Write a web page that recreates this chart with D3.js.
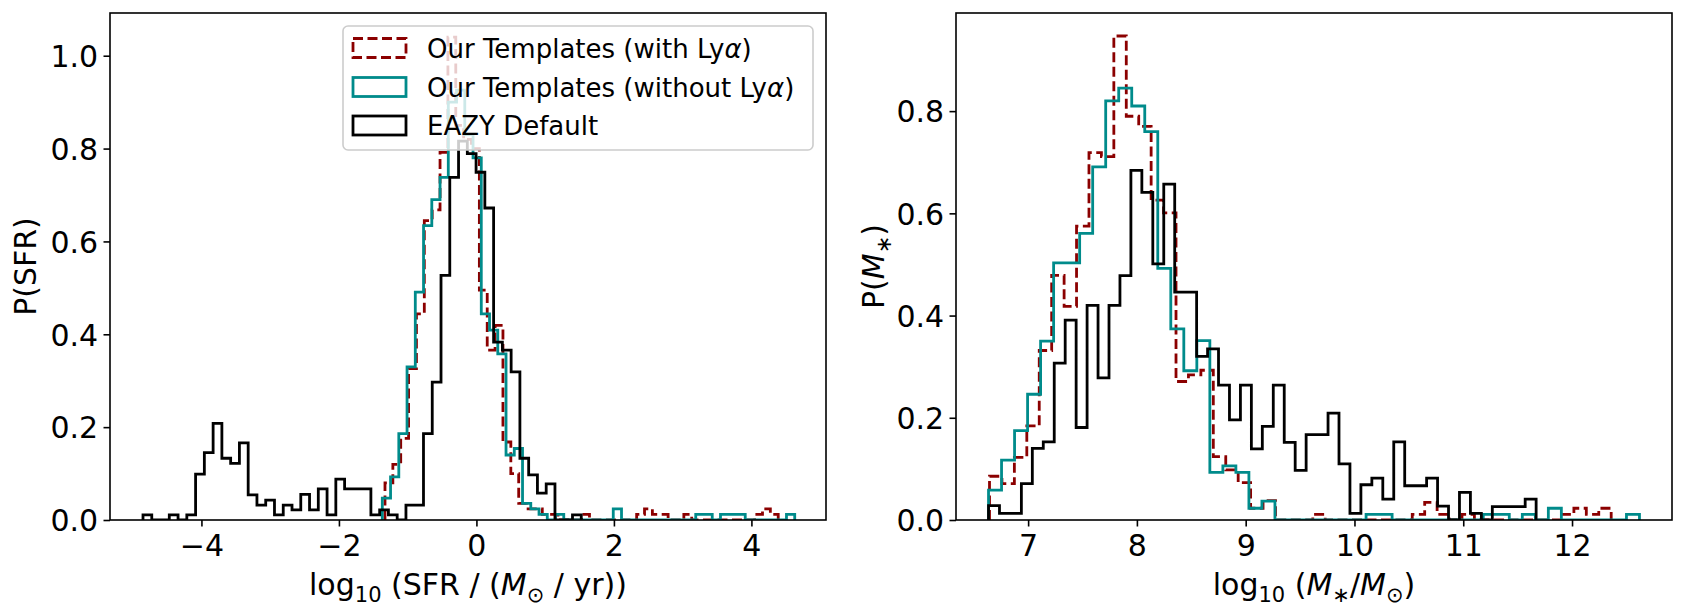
<!DOCTYPE html>
<html>
<head>
<meta charset="utf-8">
<script src="https://cdn.jsdelivr.net/npm/d3@7"></script>
<style>
  html, body { margin: 0; padding: 0; background: #fff; }
  svg { display: block; }
  text { font-family: "DejaVu Sans", sans-serif; fill: #000; }
</style>
</head>
<body>
<svg id="chart" width="1686" height="615"></svg>
<script>
// ---------------- DATA ----------------
// Left panel: log10 SFR histograms (density), 50 bins each between min and max
const sfrRedRange = [-1.33, 4.39];
const sfrRed = [0.08,0.12,0.176,0.326,0.444,0.645,0.668,0.792,1.04,0.85,0.82,0.8,
  0.495,0.366,0.419,0.168,0.1,0.036,0.024,0.024,0.012,0.012,0,0,0,0.012,0,0,0,0,0,0,
  0.012,0.024,0.012,0.012,0,0,0.012,0,0,0,0,0,0,0,0,0.012,0.024,0.012];

const sfrTealRange = [-1.369, 4.63];
const sfrTeal = [0.047,0.093,0.186,0.33,0.491,0.634,0.69,0.738,0.9,0.926,0.83,0.78,
  0.444,0.409,0.358,0.14,0.154,0.036,0.024,0.012,0,0.012,0,0,0,0,0,0,0.024,0,0,0,0,0,0,0,0,0,
  0.012,0.012,0,0.012,0.012,0.012,0,0,0,0,0,0.012];

const sfrBlackRange = [-4.85, 1.525];
const sfrBlack = [0.011,0,0,0.011,0,0.011,0.099,0.145,0.208,0.133,0.122,0.166,0.054,0.032,0.043,
  0.011,0.032,0.022,0.055,0.022,0.067,0.011,0.088,0.067,0.067,0.067,0.011,0.022,0.011,0,
  0.032,0.032,0.186,0.297,0.527,0.738,0.816,0.789,0.749,0.672,0.383,0.366,0.319,0.133,0.097,
  0.058,0.078,0,0,0.011];

// Right panel: log10 stellar mass histograms (density)
const massRedRange = [6.645, 12.36];
const massRed = [0.0856,0.071,0.1227,0.184,0.3316,0.4785,0.418,0.575,0.719,0.711,0.947,0.79,0.77,
  0.626,0.601,0.271,0.284,0.293,0.124,0.098,0.073,0.023,0.038,0,0,0,0.011,0,0,0,0,0,0,0,
  0.011,0.0345,0.011,0,0.011,0,0,0,0,0,0,0,0.011,0.023,0.011,0.023];

const massTealRange = [6.636, 12.62];
const massTeal = [0.0586,0.117,0.175,0.246,0.35,0.503,0.503,0.561,0.691,0.82,0.845,0.81,0.76,
  0.4925,0.374,0.292,0.351,0.093,0.106,0.093,0.023,0.037,0,0,0,0,0,0,0,0.011,0.011,0,0,0,0,0,0,0,
  0.011,0.011,0,0.011,0,0.023,0,0,0,0,0,0.011];

const massBlackRange = [6.636, 11.67];
const massBlack = [0.028,0.013,0.013,0.071,0.14,0.153,0.307,0.391,0.181,0.42,0.278,0.42,0.478,
  0.684,0.641,0.501,0.657,0.446,0.446,0.32,0.335,0.264,0.196,0.264,0.139,0.183,0.264,0.152,0.097,
  0.167,0.167,0.209,0.11,0.013,0.069,0.082,0.041,0.153,0.067,0.067,0.082,0.027,0,0.054,0.013,0,
  0.026,0.026,0.026,0.041];

// Ticks
const sfrXTicks = [-4, -2, 0, 2, 4];
const sfrYTicks = [0, 0.2, 0.4, 0.6, 0.8, 1.0];
const massXTicks = [7, 8, 9, 10, 11, 12];
const massYTicks = [0, 0.2, 0.4, 0.6, 0.8];

// Legend labels
const legendLabels = ["Our Templates (with Ly", "Our Templates (without Ly", "EAZY Default"];

// ---------------- STYLE / LAYOUT ----------------
const FONT = 30;        // ticks and axis labels
const LEGEND_FONT = 26;
const styles = {
  red:   { color: "#8b0000", dash: "10,4.5" },
  teal:  { color: "#008b8b", dash: null },
  black: { color: "#000000", dash: null }
};
const LW = 2.8;
const TICK = 6.5;

const panels = [
  { id: "sfr", x0: 110, x1: 826, top: 13, bottom: 520,
    xdom: [-5.33, 5.085], ydom: [0, 1.092],
    xticks: sfrXTicks, yticks: sfrYTicks,
    series: [
      { range: sfrRedRange, values: sfrRed, style: styles.red },
      { range: sfrTealRange, values: sfrTeal, style: styles.teal },
      { range: sfrBlackRange, values: sfrBlack, style: styles.black }
    ] },
  { id: "mass", x0: 956, x1: 1672, top: 13, bottom: 520,
    xdom: [6.337, 12.919], ydom: [0, 0.992],
    xticks: massXTicks, yticks: massYTicks,
    series: [
      { range: massRedRange, values: massRed, style: styles.red },
      { range: massTealRange, values: massTeal, style: styles.teal },
      { range: massBlackRange, values: massBlack, style: styles.black }
    ] }
];

const svg = d3.select("#chart");
const defs = svg.append("defs");

function styleAxis(sel) {
  sel.select(".domain").remove();
  sel.selectAll(".tick line").attr("stroke", "#000").attr("stroke-width", 1.6);
  sel.selectAll(".tick text").attr("font-size", FONT)
     .attr("font-family", "DejaVu Sans, sans-serif").attr("fill", "#000");
}

panels.forEach(p => {
  const x = d3.scaleLinear().domain(p.xdom).range([p.x0, p.x1]);
  const y = d3.scaleLinear().domain(p.ydom).range([p.bottom, p.top]);

  defs.append("clipPath").attr("id", "clip-" + p.id)
    .append("rect").attr("x", p.x0).attr("y", p.top)
    .attr("width", p.x1 - p.x0).attr("height", p.bottom - p.top);

  const g = svg.append("g").attr("clip-path", `url(#clip-${p.id})`);
  const line = d3.line().x(d => x(d[0])).y(d => y(d[1]));

  p.series.forEach(s => {
    const n = s.values.length;
    const w = (s.range[1] - s.range[0]) / n;
    const pts = [[s.range[0], 0]];
    s.values.forEach((v, i) => {
      const a = s.range[0] + i * w, b = s.range[0] + (i + 1) * w;
      pts.push([a, v], [b, v]);
    });
    pts.push([s.range[1], 0]);
    const path = g.append("path").attr("d", line(pts))
      .attr("fill", "none").attr("stroke", s.style.color)
      .attr("stroke-width", LW).attr("stroke-linejoin", "miter");
    if (s.style.dash) path.attr("stroke-dasharray", s.style.dash);
  });

  // axes
  const xa = d3.axisBottom(x).tickValues(p.xticks).tickSize(TICK).tickPadding(8)
    .tickFormat(d3.format("d"));
  svg.append("g").attr("transform", `translate(0,${p.bottom})`).call(xa).call(styleAxis);

  const ya = d3.axisLeft(y).tickValues(p.yticks).tickSize(TICK).tickPadding(5.3)
    .tickFormat(d3.format(".1f"));
  svg.append("g").attr("transform", `translate(${p.x0},0)`).call(ya).call(styleAxis)
    .selectAll(".tick text").attr("dy", "0.36em");

  // spines
  svg.append("rect").attr("x", p.x0).attr("y", p.top)
    .attr("width", p.x1 - p.x0).attr("height", p.bottom - p.top)
    .attr("fill", "none").attr("stroke", "#000").attr("stroke-width", 1.6);
});

// ---------------- AXIS LABELS ----------------
const SUB = 21, SHIFT = 7;
function addSub(t, txt) {
  t.append("tspan").attr("font-size", SUB).attr("dy", SHIFT).text(txt);
}
function back(t, txt) {
  return t.append("tspan").attr("dy", -SHIFT).text(txt);
}

// left x label: log10 (SFR / (M_sun / yr))
{
  const p = panels[0];
  const t = svg.append("text").attr("x", (p.x0 + p.x1) / 2).attr("y", 595)
    .attr("text-anchor", "middle").attr("font-size", FONT);
  t.append("tspan").text("log");
  addSub(t, "10");
  back(t, " (SFR / (");
  t.append("tspan").attr("font-style", "italic").text("M");
  addSub(t, "\u2299");
  back(t, " / yr))");
}
// right x label: log10 (M*/M_sun)
{
  const p = panels[1];
  const t = svg.append("text").attr("x", (p.x0 + p.x1) / 2).attr("y", 595)
    .attr("text-anchor", "middle").attr("font-size", FONT);
  t.append("tspan").text("log");
  addSub(t, "10");
  back(t, " (");
  t.append("tspan").attr("font-style", "italic").text("M");
  addSub(t, "\u2217");
  back(t, "/");
  t.append("tspan").attr("font-style", "italic").text("M");
  addSub(t, "\u2299");
  back(t, ")");
}
// y labels
{
  const p = panels[0];
  svg.append("text").attr("transform", `translate(36,${(p.top + p.bottom) / 2}) rotate(-90)`)
    .attr("text-anchor", "middle").attr("font-size", FONT).text("P(SFR)");
}
{
  const p = panels[1];
  const t = svg.append("text").attr("transform", `translate(884,${(p.top + p.bottom) / 2}) rotate(-90)`)
    .attr("text-anchor", "middle").attr("font-size", FONT);
  t.append("tspan").text("P(");
  t.append("tspan").attr("font-style", "italic").text("M");
  addSub(t, "\u2217");
  back(t, ")");
}

// ---------------- LEGEND ----------------
{
  const lg = svg.append("g");
  lg.append("rect").attr("x", 343).attr("y", 26).attr("width", 470).attr("height", 124)
    .attr("rx", 5).attr("ry", 5)
    .attr("fill", "#fff").attr("fill-opacity", 0.8)
    .attr("stroke", "#cccccc").attr("stroke-width", 1.6);
  const rows = [48, 87, 125.5];
  const legendStyles = [styles.red, styles.teal, styles.black];
  legendLabels.forEach((lab, i) => {
    const cy = rows[i];
    const r = lg.append("rect").attr("x", 353).attr("y", cy - 9.5).attr("width", 53).attr("height", 19)
      .attr("fill", "none").attr("stroke", legendStyles[i].color).attr("stroke-width", LW);
    if (legendStyles[i].dash) r.attr("stroke-dasharray", legendStyles[i].dash);
    const t = lg.append("text").attr("x", 427).attr("y", cy + 9.5).attr("font-size", LEGEND_FONT);
    t.append("tspan").text(lab);
    if (i < 2) {
      t.append("tspan").attr("font-style", "italic").text("\u03b1");
      t.append("tspan").text(")");
    }
  });
}
</script>
</body>
</html>
